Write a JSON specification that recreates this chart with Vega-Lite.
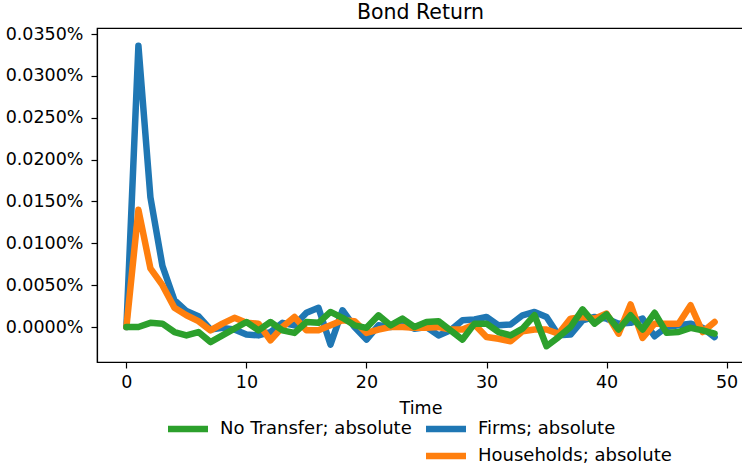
{
  "$schema": "https://vega.github.io/schema/vega-lite/v6.json",
  "autosize": {"type": "none"},
  "padding": {"left": 97, "top": 28, "right": 0, "bottom": 107},
  "width": 647,
  "height": 334,
  "title": {
    "text": "Bond Return",
    "font": "DejaVu Sans",
    "fontSize": 20.5,
    "fontWeight": "normal",
    "color": "black",
    "anchor": "middle",
    "offset": 2
  },
  "config": {
    "view": {"stroke": "black", "strokeWidth": 1.2},
    "axis": {
      "grid": false,
      "domainColor": "black",
      "domainWidth": 1.2,
      "tickColor": "black",
      "tickWidth": 1.2,
      "tickSize": 6,
      "labelFont": "DejaVu Sans",
      "labelFontSize": 17.5,
      "labelColor": "black",
      "labelPadding": 5,
      "titleFont": "DejaVu Sans",
      "titleFontSize": 17.5,
      "titleFontWeight": "normal",
      "titleColor": "black"
    }
  },
  "data": {
    "values": [
      {"t": 0, "s": "Firms; absolute", "v": 0},
      {"t": 1, "s": "Firms; absolute", "v": 0.000336},
      {"t": 2, "s": "Firms; absolute", "v": 0.000155},
      {"t": 3, "s": "Firms; absolute", "v": 0.000073},
      {"t": 4, "s": "Firms; absolute", "v": 0.000032},
      {"t": 5, "s": "Firms; absolute", "v": 0.000019},
      {"t": 6, "s": "Firms; absolute", "v": 0.000013},
      {"t": 7, "s": "Firms; absolute", "v": -0.000003},
      {"t": 8, "s": "Firms; absolute", "v": -0.000001},
      {"t": 9, "s": "Firms; absolute", "v": -0.000003},
      {"t": 10, "s": "Firms; absolute", "v": -0.000009},
      {"t": 11, "s": "Firms; absolute", "v": -0.000010},
      {"t": 12, "s": "Firms; absolute", "v": -0.000006},
      {"t": 13, "s": "Firms; absolute", "v": 0.000005},
      {"t": 14, "s": "Firms; absolute", "v": 0.000002},
      {"t": 15, "s": "Firms; absolute", "v": 0.000017},
      {"t": 16, "s": "Firms; absolute", "v": 0.000023},
      {"t": 17, "s": "Firms; absolute", "v": -0.000021},
      {"t": 18, "s": "Firms; absolute", "v": 0.000020},
      {"t": 19, "s": "Firms; absolute", "v": 0},
      {"t": 20, "s": "Firms; absolute", "v": -0.000015},
      {"t": 21, "s": "Firms; absolute", "v": 0.000002},
      {"t": 22, "s": "Firms; absolute", "v": 0},
      {"t": 23, "s": "Firms; absolute", "v": 0.000004},
      {"t": 24, "s": "Firms; absolute", "v": -0.000002},
      {"t": 25, "s": "Firms; absolute", "v": 0},
      {"t": 26, "s": "Firms; absolute", "v": -0.000010},
      {"t": 27, "s": "Firms; absolute", "v": -0.000004},
      {"t": 28, "s": "Firms; absolute", "v": 0.000008},
      {"t": 29, "s": "Firms; absolute", "v": 0.000009},
      {"t": 30, "s": "Firms; absolute", "v": 0.000012},
      {"t": 31, "s": "Firms; absolute", "v": 0.000002},
      {"t": 32, "s": "Firms; absolute", "v": 0.000003},
      {"t": 33, "s": "Firms; absolute", "v": 0.000014},
      {"t": 34, "s": "Firms; absolute", "v": 0.000018},
      {"t": 35, "s": "Firms; absolute", "v": 0.000012},
      {"t": 36, "s": "Firms; absolute", "v": -0.000010},
      {"t": 37, "s": "Firms; absolute", "v": -0.000009},
      {"t": 38, "s": "Firms; absolute", "v": 0.000008},
      {"t": 39, "s": "Firms; absolute", "v": 0.000012},
      {"t": 40, "s": "Firms; absolute", "v": 0.000010},
      {"t": 41, "s": "Firms; absolute", "v": 0.000004},
      {"t": 42, "s": "Firms; absolute", "v": 0.000005},
      {"t": 43, "s": "Firms; absolute", "v": 0.000010},
      {"t": 44, "s": "Firms; absolute", "v": -0.000011},
      {"t": 45, "s": "Firms; absolute", "v": 0},
      {"t": 46, "s": "Firms; absolute", "v": 0.000002},
      {"t": 47, "s": "Firms; absolute", "v": 0.000004},
      {"t": 48, "s": "Firms; absolute", "v": -0.000001},
      {"t": 49, "s": "Firms; absolute", "v": -0.000012},

      {"t": 0, "s": "Households; absolute", "v": 0},
      {"t": 1, "s": "Households; absolute", "v": 0.000140},
      {"t": 2, "s": "Households; absolute", "v": 0.000070},
      {"t": 3, "s": "Households; absolute", "v": 0.000050},
      {"t": 4, "s": "Households; absolute", "v": 0.000023},
      {"t": 5, "s": "Households; absolute", "v": 0.000014},
      {"t": 6, "s": "Households; absolute", "v": 0.000007},
      {"t": 7, "s": "Households; absolute", "v": -0.000004},
      {"t": 8, "s": "Households; absolute", "v": 0.000004},
      {"t": 9, "s": "Households; absolute", "v": 0.000011},
      {"t": 10, "s": "Households; absolute", "v": 0.000005},
      {"t": 11, "s": "Households; absolute", "v": 0.000004},
      {"t": 12, "s": "Households; absolute", "v": -0.000016},
      {"t": 13, "s": "Households; absolute", "v": 0},
      {"t": 14, "s": "Households; absolute", "v": 0.000012},
      {"t": 15, "s": "Households; absolute", "v": -0.000004},
      {"t": 16, "s": "Households; absolute", "v": -0.000004},
      {"t": 17, "s": "Households; absolute", "v": 0.000002},
      {"t": 18, "s": "Households; absolute", "v": 0.000008},
      {"t": 19, "s": "Households; absolute", "v": 0.000007},
      {"t": 20, "s": "Households; absolute", "v": -0.000007},
      {"t": 21, "s": "Households; absolute", "v": -0.000003},
      {"t": 22, "s": "Households; absolute", "v": 0},
      {"t": 23, "s": "Households; absolute", "v": 0},
      {"t": 24, "s": "Households; absolute", "v": -0.000001},
      {"t": 25, "s": "Households; absolute", "v": -0.000001},
      {"t": 26, "s": "Households; absolute", "v": 0},
      {"t": 27, "s": "Households; absolute", "v": -0.000003},
      {"t": 28, "s": "Households; absolute", "v": -0.000003},
      {"t": 29, "s": "Households; absolute", "v": 0.000003},
      {"t": 30, "s": "Households; absolute", "v": -0.000012},
      {"t": 31, "s": "Households; absolute", "v": -0.000014},
      {"t": 32, "s": "Households; absolute", "v": -0.000017},
      {"t": 33, "s": "Households; absolute", "v": -0.000005},
      {"t": 34, "s": "Households; absolute", "v": -0.000003},
      {"t": 35, "s": "Households; absolute", "v": -0.000003},
      {"t": 36, "s": "Households; absolute", "v": -0.000008},
      {"t": 37, "s": "Households; absolute", "v": 0.000010},
      {"t": 38, "s": "Households; absolute", "v": 0.000012},
      {"t": 39, "s": "Households; absolute", "v": 0.000010},
      {"t": 40, "s": "Households; absolute", "v": 0.000016},
      {"t": 41, "s": "Households; absolute", "v": -0.000008},
      {"t": 42, "s": "Households; absolute", "v": 0.000027},
      {"t": 43, "s": "Households; absolute", "v": -0.000013},
      {"t": 44, "s": "Households; absolute", "v": 0.000004},
      {"t": 45, "s": "Households; absolute", "v": 0.000004},
      {"t": 46, "s": "Households; absolute", "v": 0.000004},
      {"t": 47, "s": "Households; absolute", "v": 0.000026},
      {"t": 48, "s": "Households; absolute", "v": -0.000006},
      {"t": 49, "s": "Households; absolute", "v": 0.000006},

      {"t": 0, "s": "No Transfer; absolute", "v": 0},
      {"t": 1, "s": "No Transfer; absolute", "v": 0},
      {"t": 2, "s": "No Transfer; absolute", "v": 0.000005},
      {"t": 3, "s": "No Transfer; absolute", "v": 0.000004},
      {"t": 4, "s": "No Transfer; absolute", "v": -0.000006},
      {"t": 5, "s": "No Transfer; absolute", "v": -0.000010},
      {"t": 6, "s": "No Transfer; absolute", "v": -0.000006},
      {"t": 7, "s": "No Transfer; absolute", "v": -0.000018},
      {"t": 8, "s": "No Transfer; absolute", "v": -0.000010},
      {"t": 9, "s": "No Transfer; absolute", "v": -0.000002},
      {"t": 10, "s": "No Transfer; absolute", "v": 0.000006},
      {"t": 11, "s": "No Transfer; absolute", "v": -0.000004},
      {"t": 12, "s": "No Transfer; absolute", "v": 0.000006},
      {"t": 13, "s": "No Transfer; absolute", "v": -0.000004},
      {"t": 14, "s": "No Transfer; absolute", "v": -0.000007},
      {"t": 15, "s": "No Transfer; absolute", "v": 0.000006},
      {"t": 16, "s": "No Transfer; absolute", "v": 0.000005},
      {"t": 17, "s": "No Transfer; absolute", "v": 0.000018},
      {"t": 18, "s": "No Transfer; absolute", "v": 0.000011},
      {"t": 19, "s": "No Transfer; absolute", "v": 0.000002},
      {"t": 20, "s": "No Transfer; absolute", "v": -0.000001},
      {"t": 21, "s": "No Transfer; absolute", "v": 0.000014},
      {"t": 22, "s": "No Transfer; absolute", "v": 0.000002},
      {"t": 23, "s": "No Transfer; absolute", "v": 0.000010},
      {"t": 24, "s": "No Transfer; absolute", "v": 0},
      {"t": 25, "s": "No Transfer; absolute", "v": 0.000006},
      {"t": 26, "s": "No Transfer; absolute", "v": 0.000007},
      {"t": 27, "s": "No Transfer; absolute", "v": -0.000004},
      {"t": 28, "s": "No Transfer; absolute", "v": -0.000015},
      {"t": 29, "s": "No Transfer; absolute", "v": 0.000004},
      {"t": 30, "s": "No Transfer; absolute", "v": 0.000004},
      {"t": 31, "s": "No Transfer; absolute", "v": -0.000006},
      {"t": 32, "s": "No Transfer; absolute", "v": -0.000010},
      {"t": 33, "s": "No Transfer; absolute", "v": -0.000002},
      {"t": 34, "s": "No Transfer; absolute", "v": 0.000014},
      {"t": 35, "s": "No Transfer; absolute", "v": -0.000023},
      {"t": 36, "s": "No Transfer; absolute", "v": -0.000012},
      {"t": 37, "s": "No Transfer; absolute", "v": 0},
      {"t": 38, "s": "No Transfer; absolute", "v": 0.000021},
      {"t": 39, "s": "No Transfer; absolute", "v": 0.000004},
      {"t": 40, "s": "No Transfer; absolute", "v": 0.000015},
      {"t": 41, "s": "No Transfer; absolute", "v": -0.000003},
      {"t": 42, "s": "No Transfer; absolute", "v": 0.000014},
      {"t": 43, "s": "No Transfer; absolute", "v": -0.000003},
      {"t": 44, "s": "No Transfer; absolute", "v": 0.000017},
      {"t": 45, "s": "No Transfer; absolute", "v": -0.000007},
      {"t": 46, "s": "No Transfer; absolute", "v": -0.000006},
      {"t": 47, "s": "No Transfer; absolute", "v": -0.000001},
      {"t": 48, "s": "No Transfer; absolute", "v": -0.000004},
      {"t": 49, "s": "No Transfer; absolute", "v": -0.000008}
    ]
  },
  "mark": {
    "type": "line",
    "strokeWidth": 6.5,
    "strokeJoin": "round",
    "strokeCap": "round",
    "clip": true
  },
  "encoding": {
    "x": {
      "field": "t",
      "type": "quantitative",
      "title": "Time",
      "scale": {"domain": [-2.45, 51.45], "nice": false, "zero": false},
      "axis": {"values": [0, 10, 20, 30, 40, 50], "format": "d", "titlePadding": 9}
    },
    "y": {
      "field": "v",
      "type": "quantitative",
      "title": null,
      "scale": {"domain": [-0.0000418, 0.0003572], "nice": false, "zero": false},
      "axis": {
        "values": [0, 0.00005, 0.0001, 0.00015, 0.0002, 0.00025, 0.0003, 0.00035],
        "format": ".4%",
        "labelPadding": 8
      }
    },
    "color": {
      "field": "s",
      "type": "nominal",
      "scale": {
        "domain": ["No Transfer; absolute", "Firms; absolute", " ", "Households; absolute"],
        "range": ["#2ca02c", "#1f77b4", "#ffffff", "#ff7f0e"]
      },
      "legend": {
        "title": null,
        "orient": "none",
        "legendX": 87,
        "legendY": 392,
        "direction": "horizontal",
        "columns": 2,
        "columnPadding": 1,
        "rowPadding": 1,
        "symbolType": "M-6.25,0H3.75",
        "symbolSize": 64,
        "symbolStrokeWidth": 6.5,
        "labelFont": "DejaVu Sans",
        "labelFontSize": 18,
        "labelColor": "black",
        "labelOffset": 18,
        "labelLimit": 400
      }
    }
  }
}
